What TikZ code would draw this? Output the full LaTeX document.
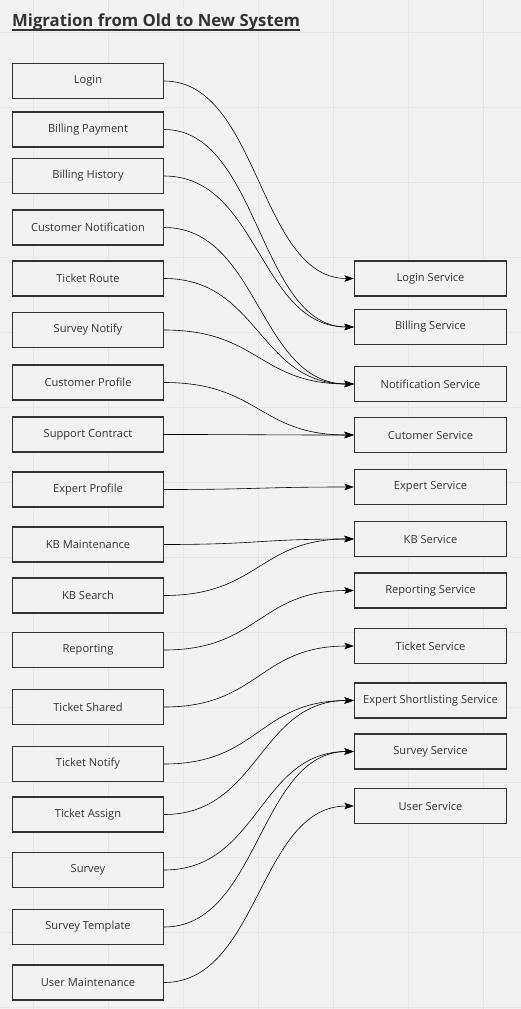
\documentclass[tikz,border=0pt]{standalone}
\usepackage{fontspec}
\setmainfont{Open Sans}
\usetikzlibrary{arrows.meta}
\definecolor{bggray}{HTML}{F2F2F2}
\definecolor{gridgray}{HTML}{E6E6E6}
\definecolor{boxline}{HTML}{333333}

\begin{document}
\begin{tikzpicture}[x=1pt, y=-1pt,
  oldbox/.style={rectangle, draw=boxline, line width=1.3pt, fill=bggray, minimum width=151pt, minimum height=35pt, inner sep=1pt, text=boxline, font=\fontsize{11.1}{13}\selectfont},
  newbox/.style={oldbox, minimum width=152pt},
  link/.style={-{Stealth[length=9.5pt,width=6.5pt,inset=2pt]}, line width=0.6pt},
]
\useasboundingbox (0,0) rectangle (521,1009);
% background with grid
\fill[bggray] (0,0) rectangle (521,1009);
\foreach \x in {33,108,...,483} \draw[gridgray, line width=1pt] (\x,0) -- (\x,1009);
\foreach \y in {32,107,...,1007} \draw[gridgray, line width=1pt] (0,\y) -- (521,\y);

\node[anchor=base west, inner sep=0pt, text=boxline, font=\bfseries\fontsize{16.7}{20}\selectfont] (title) at (12,27) {Migration from Old to New System};
\draw[boxline, line width=1.4pt] ([yshift=-2.8pt]title.base west) -- ([yshift=-2.8pt]title.base east);

% old system
\node[oldbox] (login) at (88,81) {Login};
\node[oldbox] (billpay) at (88,129.5) {Billing Payment};
\node[oldbox] (billhist) at (88,176) {Billing History};
\node[oldbox] (custnotif) at (88,227.5) {Customer Notification};
\node[oldbox] (tickroute) at (88,278.5) {Ticket Route};
\node[oldbox] (survnotify) at (88,330) {Survey Notify};
\node[oldbox] (custprof) at (88,382.5) {Customer Profile};
\node[oldbox] (suppcontract) at (88,434.5) {Support Contract};
\node[oldbox] (expprof) at (88,489.5) {Expert Profile};
\node[oldbox] (kbmaint) at (88,544.5) {KB Maintenance};
\node[oldbox] (kbsearch) at (88,595.5) {KB Search};
\node[oldbox] (reporting) at (88,650) {Reporting};
\node[oldbox] (tickshared) at (88,707) {Ticket Shared};
\node[oldbox] (ticknotify) at (88,764) {Ticket Notify};
\node[oldbox] (tickassign) at (88,814.5) {Ticket Assign};
\node[oldbox] (survey) at (88,870) {Survey};
\node[oldbox] (survtempl) at (88,927) {Survey Template};
\node[oldbox] (usermaint) at (88,982.5) {User Maintenance};

% new system
\node[newbox] (loginsvc) at (430.5,278.5) {Login Service};
\node[newbox] (billsvc) at (430.5,327) {Billing Service};
\node[newbox] (notifsvc) at (430.5,384) {Notification Service};
\node[newbox] (custsvc) at (430.5,435) {Cutomer Service};
\node[newbox] (expertsvc) at (430.5,487) {Expert Service};
\node[newbox] (kbsvc) at (430.5,539) {KB Service};
\node[newbox] (reportsvc) at (430.5,590.5) {Reporting Service};
\node[newbox] (ticketsvc) at (430.5,646) {Ticket Service};
\node[newbox] (shortsvc) at (430.5,700.5) {Expert Shortlisting Service};
\node[newbox] (surveysvc) at (430.5,751.5) {Survey Service};
\node[newbox] (usersvc) at (430.5,806) {User Service};

% migration links
\draw[link] (login.east) .. controls +(95,0) and +(-95,0) .. (loginsvc.west);
\draw[link] (billpay.east) .. controls +(95,0) and +(-95,0) .. (billsvc.west);
\draw[link] (billhist.east) .. controls +(95,0) and +(-95,0) .. (billsvc.west);
\draw[link] (custnotif.east) .. controls +(95,0) and +(-95,0) .. (notifsvc.west);
\draw[link] (tickroute.east) .. controls +(95,0) and +(-95,0) .. (notifsvc.west);
\draw[link] (survnotify.east) .. controls +(95,0) and +(-95,0) .. (notifsvc.west);
\draw[link] (custprof.east) .. controls +(95,0) and +(-95,0) .. (custsvc.west);
\draw[link] (suppcontract.east) .. controls +(95,0) and +(-95,0) .. (custsvc.west);
\draw[link] (expprof.east) .. controls +(95,0) and +(-95,0) .. (expertsvc.west);
\draw[link] (kbmaint.east) .. controls +(95,0) and +(-95,0) .. (kbsvc.west);
\draw[link] (kbsearch.east) .. controls +(95,0) and +(-95,0) .. (kbsvc.west);
\draw[link] (reporting.east) .. controls +(95,0) and +(-95,0) .. (reportsvc.west);
\draw[link] (tickshared.east) .. controls +(95,0) and +(-95,0) .. (ticketsvc.west);
\draw[link] (ticknotify.east) .. controls +(95,0) and +(-95,0) .. (shortsvc.west);
\draw[link] (tickassign.east) .. controls +(95,0) and +(-95,0) .. (shortsvc.west);
\draw[link] (survey.east) .. controls +(95,0) and +(-95,0) .. (surveysvc.west);
\draw[link] (survtempl.east) .. controls +(95,0) and +(-95,0) .. (surveysvc.west);
\draw[link] (usermaint.east) .. controls +(95,0) and +(-95,0) .. (usersvc.west);
\end{tikzpicture}
\end{document}
